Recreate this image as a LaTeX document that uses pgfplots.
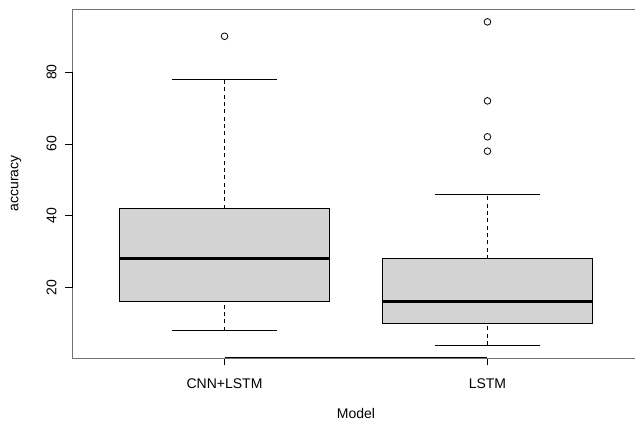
\documentclass[border=0pt]{standalone}
\usepackage{pgfplots}
\pgfplotsset{compat=1.18}
\usepackage{fontspec}
\setmainfont{Liberation Sans}
\definecolor{boxgray}{HTML}{D3D3D3}
\begin{document}
\begin{tikzpicture}
\useasboundingbox (0,0) rectangle (476.25pt,317.25pt);
\begin{axis}[
  at={(54pt,48.75pt)}, anchor=south west,
  width=426pt, height=261.75pt, scale only axis,
  xmin=0.42, xmax=2.58, ymin=0.4, ymax=97.6,
  xtick={1,2}, xticklabels={CNN+LSTM,LSTM},
  ytick={20,40,60,80},
  tick pos=left, tick align=outside,
  major tick length=5pt,
  tick style={black, line width=0.6pt},
  axis line style={black!55, line width=0.6pt},
  font=\fontsize{10.5}{12.6}\selectfont,
  /pgf/number format/assume math mode=true,
  yticklabel style={rotate=90, anchor=south, inner sep=0pt, yshift=6.5pt},
  xticklabel style={anchor=north, inner sep=0pt, yshift=-10pt},
  xlabel={Model}, ylabel={accuracy},
  every axis x label/.style={at={(axis description cs:0.5,0)}, anchor=base, yshift=-45.5pt},
  every axis y label/.style={at={(axis description cs:-0.0986,0.5)}, rotate=90, anchor=center},
  clip=false,
]
% boxes (quartiles)
\addplot[black, line width=0.75pt, fill=boxgray] coordinates {(0.6,16) (1.4,16) (1.4,42) (0.6,42) (0.6,16)} -- cycle;
\addplot[black, line width=0.75pt, fill=boxgray] coordinates {(1.6,10) (2.4,10) (2.4,28) (1.6,28) (1.6,10)} -- cycle;
% medians
\addplot[black, line width=2.25pt] coordinates {(0.6,28) (1.4,28)};
\addplot[black, line width=2.25pt] coordinates {(1.6,16) (2.4,16)};
% whiskers
\addplot[black, line width=0.75pt, dash pattern=on 3pt off 2.5pt] coordinates {(1,8) (1,16)};
\addplot[black, line width=0.75pt, dash pattern=on 3pt off 2.5pt] coordinates {(1,42) (1,78)};
\addplot[black, line width=0.75pt, dash pattern=on 3pt off 2.5pt] coordinates {(2,4) (2,10)};
\addplot[black, line width=0.75pt, dash pattern=on 3pt off 2.5pt] coordinates {(2,28) (2,46)};
% whisker caps
\addplot[black, line width=0.75pt] coordinates {(0.8,8) (1.2,8)};
\addplot[black, line width=0.75pt] coordinates {(0.8,78) (1.2,78)};
\addplot[black, line width=0.75pt] coordinates {(1.8,4) (2.2,4)};
\addplot[black, line width=0.75pt] coordinates {(1.8,46) (2.2,46)};
% outliers
\addplot[only marks, mark=o, mark size=2.5pt, mark options={black, line width=0.6pt}] coordinates {(1,90) (2,94) (2,72) (2,62) (2,58)};
% axis lines
\addplot[black, line width=0.75pt] coordinates {(0.42,20) (0.42,80)};
\addplot[black, line width=0.75pt] coordinates {(1,0.4) (2,0.4)};
\end{axis}
\end{tikzpicture}
\end{document}
